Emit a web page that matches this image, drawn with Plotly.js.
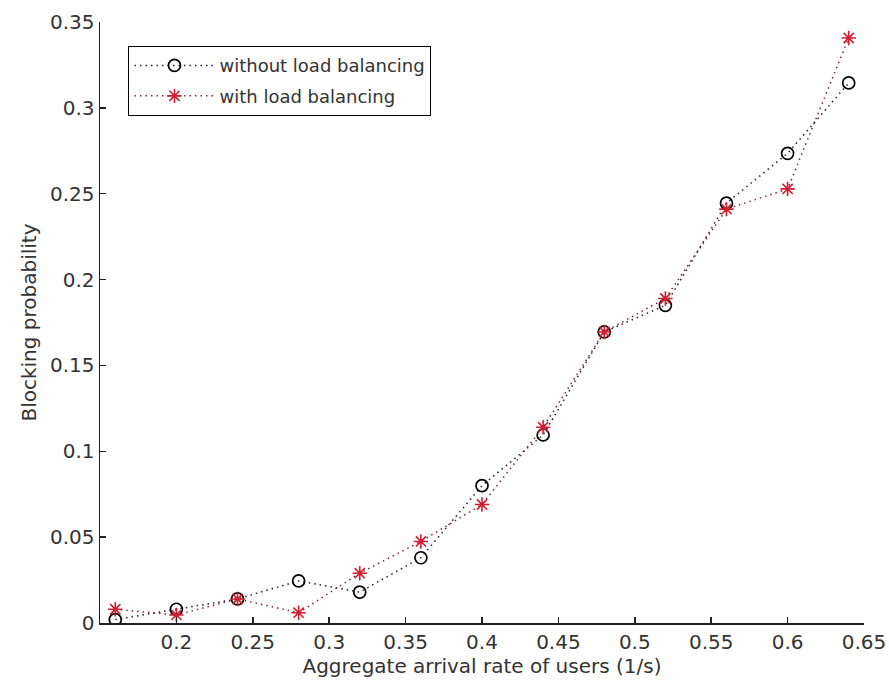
<!DOCTYPE html>
<html>
<head>
<meta charset="utf-8">
<script src="https://cdn.plot.ly/plotly-3.0.1.min.js"></script>
<style>
  html, body { margin: 0; padding: 0; background: #fff; }
  #chart { width: 889px; height: 691px; }
</style>
</head>
<body>
<div id="chart"></div>
<script>
// Aggregate arrival rate of users (1/s)
const arrivalRate = [0.16, 0.20, 0.24, 0.28, 0.32, 0.36, 0.40, 0.44, 0.48, 0.52, 0.56, 0.60, 0.64];
// Blocking probability per scheme
const withoutLB = [0.002, 0.008, 0.014, 0.0245, 0.018, 0.038, 0.080, 0.1095, 0.1695, 0.185, 0.2445, 0.2735, 0.3145];
const withLB    = [0.008, 0.0047, 0.014, 0.006, 0.029, 0.0475, 0.069, 0.114, 0.1695, 0.189, 0.241, 0.2528, 0.3407];
const seriesNames = ['without load balancing', 'with load balancing'];
const xTicks = [0.2, 0.25, 0.3, 0.35, 0.4, 0.45, 0.5, 0.55, 0.6, 0.65];
const yTicks = [0, 0.05, 0.1, 0.15, 0.2, 0.25, 0.3, 0.35];

const fontFamily = '"DejaVu Sans", Verdana, sans-serif';
const textColor = '#333';

const traces = [
  {
    x: arrivalRate, y: withoutLB, name: seriesNames[0], legendgroup: 'a',
    type: 'scatter', mode: 'lines+markers',
    line: { color: '#222', width: 1.5, dash: '1.5px,4px' },
    marker: { symbol: 'circle-open', size: 12, color: '#000', line: { width: 1.7, color: '#000' } }
  },
  {
    x: arrivalRate, y: withLB, name: seriesNames[1], legendgroup: 'b',
    type: 'scatter', mode: 'lines+markers',
    line: { color: 'rgb(120,40,48)', width: 1.5, dash: '1.5px,4px' },
    marker: { symbol: 'asterisk-open', size: 12, color: 'rgb(210,30,50)', line: { width: 1.6, color: 'rgb(210,30,50)' } }
  }
];

const layout = {
  width: 889, height: 691,
  paper_bgcolor: '#fff', plot_bgcolor: '#fff',
  margin: { l: 100, r: 25, t: 22, b: 68 },
  font: { family: fontFamily, size: 20, color: textColor },
  showlegend: true,
  legend: {
    x: 0.037, y: 0.96, xanchor: 'left', yanchor: 'top',
    bgcolor: '#fff', bordercolor: '#000', borderwidth: 1.2,
    font: { family: fontFamily, size: 18, color: textColor },
    itemwidth: 80, tracegroupgap: 4
  },
  xaxis: {
    range: [0.15, 0.65],
    tickvals: xTicks, ticktext: xTicks.map(String),
    ticks: 'inside', ticklen: 6, tickwidth: 1.5, tickcolor: '#222',
    showline: true, linecolor: '#222', linewidth: 1.5,
    showgrid: false, zeroline: false, mirror: false,
    tickfont: { family: fontFamily, size: 20, color: textColor },
    title: { text: 'Aggregate arrival rate of users (1/s)', font: { family: fontFamily, size: 20, color: textColor }, standoff: 2 }
  },
  yaxis: {
    range: [0, 0.35],
    tickvals: yTicks, ticktext: yTicks.map(String),
    ticks: 'inside', ticklen: 6, tickwidth: 1.5, tickcolor: '#222',
    showline: true, linecolor: '#222', linewidth: 1.5,
    showgrid: false, zeroline: false, mirror: false,
    tickfont: { family: fontFamily, size: 20, color: textColor },
    title: { text: 'Blocking probability', font: { family: fontFamily, size: 20, color: textColor }, standoff: 8 }
  }
};

Plotly.newPlot('chart', traces, layout, { displayModeBar: false, staticPlot: true });
</script>
</body>
</html>
